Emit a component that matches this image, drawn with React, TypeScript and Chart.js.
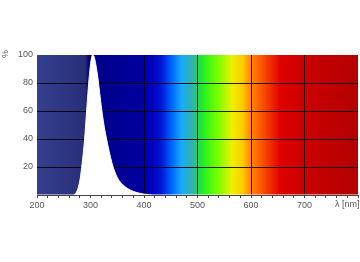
import React, { useEffect, useRef } from "react";
import { Chart, registerables } from "chart.js";

Chart.register(...registerables);

const wavelengths = [200, 260, 268, 272, 276, 280, 283, 286, 289, 292, 295, 298, 301, 304, 307, 310, 314, 318, 322, 326, 330, 335, 340, 345, 350, 355, 360, 366, 372, 380, 390, 400, 410, 420, 800];
const intensity = [0, 0, 0, 1, 4, 10, 18, 28, 40, 56, 72, 86, 96, 100, 98.5, 93, 83, 70, 58, 48, 40, 31, 23, 17, 12.5, 9.5, 7.5, 5.5, 4, 2.6, 1.4, 0.6, 0.2, 0, 0];

const xTickLabels = ["200", "300", "400", "500", "600", "700"];
const xAxisTitle = "λ [nm]";
const yAxisTitle = "%";

// background spectrum colour stops [wavelength, colour]
const spectrumNm = [200, 290, 297, 390, 412, 432, 452, 470, 488, 500, 510, 540, 565, 585, 597, 615, 635, 655, 700, 800];
const spectrumColors = ["#343f8e", "#282f78", "#000088", "#00009e", "#0000bc", "#0014d4", "#0066ff", "#18aaff", "#30b0b4", "#22d070", "#22f020", "#80ff00", "#eef000", "#ffc800", "#ff9000", "#ff6000", "#f03000", "#e00000", "#cc0000", "#b20000"];

const FONT = "Arial, 'Liberation Sans', Helvetica, sans-serif";

const spectrumPlugin = {
  id: "spectrum",
  beforeDraw(chart: any) {
    const { ctx, chartArea, scales } = chart;
    const xs = scales.x;
    const x0 = xs.getPixelForValue(200);
    const x1 = xs.getPixelForValue(800);
    const g = ctx.createLinearGradient(x0, 0, x1, 0);
    spectrumNm.forEach((nm, i) => {
      g.addColorStop((nm - 200) / 600, spectrumColors[i]);
    });
    ctx.save();
    ctx.fillStyle = g;
    ctx.fillRect(chartArea.left, chartArea.top, chartArea.right - chartArea.left, chartArea.bottom - chartArea.top);
    ctx.restore();
  },
  afterDraw(chart: any) {
    const { ctx, chartArea } = chart;
    ctx.save();
    ctx.fillStyle = "#555";
    ctx.font = `9px ${FONT}`;
    ctx.textBaseline = "middle";
    ctx.textAlign = "left";
    ctx.fillText(xAxisTitle, 335, chartArea.bottom + 10);
    ctx.translate(6, chartArea.top - 1);
    ctx.rotate(-Math.PI / 2);
    ctx.textAlign = "center";
    ctx.fillText(yAxisTitle, 0, 0);
    ctx.restore();
  },
};

export default function App() {
  const ref = useRef<HTMLCanvasElement>(null);
  useEffect(() => {
    if (!ref.current) return;
    const chart = new Chart(ref.current, {
      type: "line",
      data: {
        datasets: [
          {
            data: wavelengths.map((w, i) => ({ x: w, y: intensity[i] })),
            borderColor: "#ffffff",
            borderWidth: 1,
            backgroundColor: "#ffffff",
            fill: "origin",
            pointRadius: 0,
            cubicInterpolationMode: "monotone",
          },
        ],
      },
      options: {
        responsive: false,
        animation: false,
        devicePixelRatio: 1,
        layout: { padding: { top: 55, right: 2, left: 0, bottom: 37 } },
        plugins: { legend: { display: false }, tooltip: { enabled: false } },
        scales: {
          x: {
            type: "linear",
            min: 200,
            max: 800,
            afterFit: (s: any) => { s.height = 30; },
            border: { display: true, color: "#444", width: 1 },
            grid: {
              color: (c: any) => {
                const v = c.tick?.value;
                return v % 100 === 0 && v > 200 && v < 800 ? "rgba(0,0,0,0.85)" : "rgba(0,0,0,0)";
              },
              tickColor: "#444",
              tickLength: 3,
              lineWidth: 1,
            },
            ticks: {
              stepSize: 20,
              autoSkip: false,
              maxRotation: 0,
              padding: 2,
              color: "#555",
              font: { family: FONT, size: 9 },
              callback: (v: any) => {
                const s = String(v);
                return xTickLabels.includes(s) ? s : "";
              },
            },
          },
          y: {
            min: 0,
            max: 100,
            afterFit: (s: any) => { s.width = 37; },
            border: { display: false },
            grid: {
              drawTicks: false,
              color: (c: any) => {
                const v = c.tick?.value;
                return v > 0 && v < 100 ? "rgba(0,0,0,0.85)" : "rgba(0,0,0,0)";
              },
              lineWidth: 1,
            },
            ticks: {
              stepSize: 20,
              padding: 4,
              color: "#555",
              font: { family: FONT, size: 9 },
              callback: (v: any) => (v === 0 ? "" : String(v)),
            },
          },
        },
      },
      plugins: [spectrumPlugin],
    } as any);
    return () => chart.destroy();
  }, []);
  return (
    <div style={{ position: "fixed", left: 0, top: 0, width: 360, height: 262, background: "#fff" }}>
      <canvas ref={ref} width={360} height={262} />
    </div>
  );
}
